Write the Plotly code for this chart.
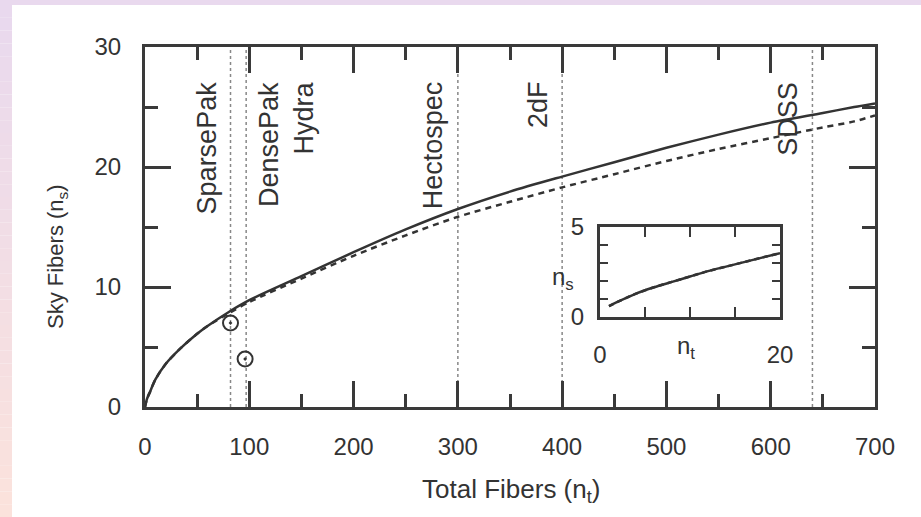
import plotly.graph_objects as go

# ---------------- data ----------------
nt_main = [0, 2, 5, 10, 20, 33, 50, 60, 80, 100, 150, 200, 250, 300, 350, 400, 450, 500, 550, 600, 650, 680, 700]
ns_solid = [0, 0.7, 1.3, 2.3, 3.6, 4.8, 6.1, 6.75, 7.9, 8.9, 10.9, 12.9, 14.8, 16.5, 17.95, 19.2, 20.4, 21.6, 22.7, 23.7, 24.5, 25.0, 25.3]
ns_dashed = [0, 0.7, 1.3, 2.3, 3.6, 4.8, 6.1, 6.75, 7.8, 8.75, 10.7, 12.6, 14.3, 15.85, 17.1, 18.3, 19.4, 20.5, 21.5, 22.4, 23.3, 23.8, 24.3]

nt_inset = [1, 2, 4, 6, 8, 10, 12, 14, 16, 18, 20]
ns_inset = [0.6, 0.85, 1.3, 1.65, 1.95, 2.25, 2.55, 2.8, 3.05, 3.3, 3.55]

inst_points_nt = [82, 96]
inst_points_ns = [7, 4]

instr_lines = [82, 97, 300, 400, 640]
instr_labels = ["SparsePak", "DensePak<br>Hydra", "Hectospec", "2dF", "SDSS"]
instr_side = ["left", "right", "left", "left", "left"]

x_ticks = [0, 100, 200, 300, 400, 500, 600, 700]
y_ticks = [0, 10, 20, 30]

# ---------------- geometry ----------------
W, H = 921, 517
L, R, T, B = 145, 875, 47, 407


def px(xp):
    return (xp - L) / (R - L)


def py(yp):
    return (B - yp) / (B - T)


INK = "#333333"
FONT = "Liberation Sans, Arial, sans-serif"

fig = go.Figure()

fig.add_trace(go.Scatter(x=nt_main, y=ns_solid, mode="lines",
                         line=dict(color=INK, width=2.5, shape="spline", smoothing=0.8),
                         showlegend=False))
fig.add_trace(go.Scatter(x=nt_main, y=ns_dashed, mode="lines",
                         line=dict(color=INK, width=2.5, dash="6px,5px", shape="spline", smoothing=0.8),
                         showlegend=False))
fig.add_trace(go.Scatter(x=inst_points_nt, y=inst_points_ns, mode="markers",
                         marker=dict(symbol="circle-open-dot", size=15, color=INK,
                                     line=dict(width=2, color=INK)), showlegend=False))

# inset
fig.add_trace(go.Scatter(x=nt_inset, y=ns_inset, mode="lines", xaxis="x2", yaxis="y2",
                         line=dict(color=INK, width=2.5, shape="spline", smoothing=0.8),
                         showlegend=False))
fig.add_trace(go.Scatter(x=nt_inset, y=ns_inset, mode="lines", xaxis="x2", yaxis="y2",
                         line=dict(color=INK, width=2.5, dash="5px,4px", shape="spline", smoothing=0.8),
                         showlegend=False))

shapes = []
# background page strips
lav = (233, 217, 238)
pea = (251, 226, 220)
shapes.append(dict(type="rect", xref="paper", yref="paper", x0=px(0), x1=px(W), y0=py(5), y1=py(0),
                   fillcolor="rgb(%d,%d,%d)" % lav, line=dict(width=0), layer="below"))
n = 40
for i in range(n):
    t = i / (n - 1)
    c = tuple(int(round(lav[k] + (pea[k] - lav[k]) * t)) for k in range(3))
    y0 = 5 + (H - 5) * i / n
    y1 = 5 + (H - 5) * (i + 1) / n
    shapes.append(dict(type="rect", xref="paper", yref="paper", x0=px(0), x1=px(12),
                       y0=py(y1), y1=py(y0), fillcolor="rgb(%d,%d,%d)" % c,
                       line=dict(width=0), layer="below"))

for v in instr_lines:
    shapes.append(dict(type="line", xref="x", yref="y", x0=v, x1=v, y0=0, y1=30,
                       line=dict(color="#888888", width=1.5, dash="dot"), layer="below"))

annotations = []
for v, lab, side in zip(instr_lines, instr_labels, instr_side):
    annotations.append(dict(x=v, y=27.3, xref="x", yref="y", text=lab, textangle=-90,
                            showarrow=False, xanchor="right" if side == "left" else "left",
                            yanchor="top", xshift=-7 if side == "left" else 6, align="right",
                            font=dict(family=FONT, size=27, color=INK)))

annotations.append(dict(x=0.501, y=py(490), xref="paper", yref="paper",
                        text="Total Fibers (n<sub>t</sub>)", showarrow=False,
                        xanchor="center", yanchor="middle",
                        font=dict(family=FONT, size=26, color=INK)))
annotations.append(dict(x=px(57), y=py(257), xref="paper", yref="paper",
                        text="Sky Fibers (n<sub>s</sub>)", showarrow=False, textangle=-90,
                        xanchor="center", yanchor="middle",
                        font=dict(family=FONT, size=22, color=INK)))
# inset axis titles
annotations.append(dict(x=px(686), y=py(347), xref="paper", yref="paper",
                        text="n<sub>t</sub>", showarrow=False, xanchor="center", yanchor="middle",
                        font=dict(family=FONT, size=24, color=INK)))
annotations.append(dict(x=px(563), y=py(278), xref="paper", yref="paper",
                        text="n<sub>s</sub>", showarrow=False, xanchor="center", yanchor="middle",
                        font=dict(family=FONT, size=24, color=INK)))

axis_common = dict(showline=True, linewidth=3, linecolor="#3a3a3a", mirror="allticks",
                   ticks="inside", tickcolor="#3a3a3a", showgrid=False, zeroline=False,
                   tickfont=dict(family=FONT, size=24, color=INK))

fig.update_layout(
    width=W, height=H, autosize=False,
    margin=dict(l=L, r=W - R, t=T, b=H - B, pad=0),
    paper_bgcolor="white", plot_bgcolor="white",
    showlegend=False,
    xaxis=dict(range=[0, 700], tickvals=x_ticks, ticklen=26, tickwidth=2.5,
               minor=dict(dtick=50, ticklen=13, tickwidth=2.5, ticks="inside", tickcolor="#3a3a3a"),
               ticklabelstandoff=16, **axis_common),
    yaxis=dict(range=[0, 30], tickvals=y_ticks, ticklen=26, tickwidth=2.5,
               minor=dict(dtick=5, ticklen=13, tickwidth=2.5, ticks="inside", tickcolor="#3a3a3a"),
               ticklabelstandoff=16, **axis_common),
    xaxis2=dict(domain=[px(600), px(780)], anchor="y2", range=[0, 20],
                tickvals=[0, 5, 10, 15, 20], ticktext=["0", "", "", "", "20"],
                ticklen=10, tickwidth=2, ticklabelstandoff=14, **axis_common),
    yaxis2=dict(domain=[py(317), py(227)], anchor="x2", range=[0, 5],
                tickvals=[0, 1, 2, 3, 4, 5], ticktext=["0", "", "", "", "", "5"],
                ticklen=8, tickwidth=2, ticklabelstandoff=8, **axis_common),
    shapes=shapes,
    annotations=annotations,
)

fig.write_html("out.html", config={"displayModeBar": False},
               post_script="document.body.style.margin='0';document.body.style.overflow='hidden';")
